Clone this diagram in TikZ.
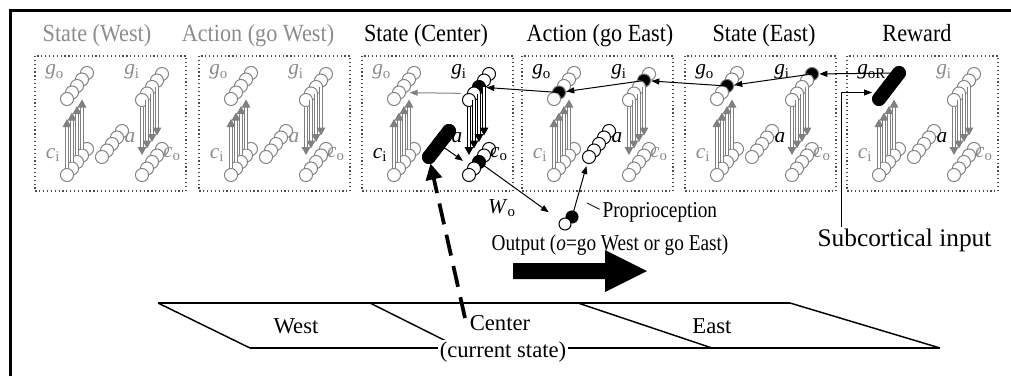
\documentclass[tikz,border=0pt]{standalone}
\usepackage{graphicx}
\usepackage{fontspec}
\setmainfont{Liberation Serif}
\usetikzlibrary{arrows.meta}

\definecolor{unitgray}{gray}{0.5}
\definecolor{labgray}{gray}{0.55}

% squeezed text as in the printed figure
\newcommand{\sqz}[1]{\scalebox{0.85}[1]{#1}}
\newcommand{\unitlab}[2]{\textit{#1}\textsubscript{#2}}

% five units in a slanted row, back to front; #5 = index of the active unit
\newcommand{\unitrow}[5]{%
  \foreach \k in {4,3,2,1,0}{%
    \coordinate (#1-\k) at (#2+5*\k,#3-6.5*\k);
    \ifnum\k=#5\relax
      \filldraw[unitc,draw=#4,fill=black] (#1-\k) circle (4.9pt);
    \else
      \filldraw[unitc,draw=#4] (#1-\k) circle (4.9pt);
    \fi
  }%
}

\begin{document}
\begin{tikzpicture}[x=0.75pt,y=-0.75pt,
  unitc/.style={line width=0.75pt,fill=white},
  modbox/.style={draw=black!70,dotted,line width=0.9pt},
  vecarr/.style={draw=#1,double=white,double distance=0.8pt,line width=0.75pt,
    -{Triangle[length=6pt,width=6.5pt,color=#1]}},
  linkarr/.style={line width=0.75pt,-{Triangle[length=6pt,width=4.5pt]}},
  actbar/.style={line width=10.5pt,line cap=round},
  dasharr/.style={line width=2.8pt,dash pattern=on 16pt off 8pt,
    -{Triangle[length=12pt,width=12pt]}},
  titletxt/.style={font=\fontsize{18.5}{20}\selectfont,anchor=base},
  vartxt/.style={font=\fontsize{16}{18}\selectfont,inner sep=0pt},
  bodytxt/.style={font=\fontsize{17}{19}\selectfont,inner sep=1pt},
  trackline/.style={line width=1.1pt}]
  \useasboundingbox (0,0) rectangle (1011,376);
  % frame
  \draw[line width=2.2pt] (10.5,376) -- (10.5,10.5) -- (1011,10.5);

  % titles
  \node[titletxt,text=labgray] (t1) at (97,41) {\scalebox{0.9}[1]{State (West)}};
  \node[titletxt,text=labgray] (t2) at (258,41) {\scalebox{0.9}[1]{Action (go West)}};
  \node[titletxt] (t3) at (426,41) {\scalebox{0.9}[1]{State (Center)}};
  \node[titletxt] (t4) at (600,41) {\scalebox{0.9}[1]{Action (go East)}};
  \node[titletxt] (t5) at (764,41) {\scalebox{0.9}[1]{State (East)}};
  \node[titletxt] (t6) at (917,41) {\scalebox{0.9}[1]{Reward}};

  % modules: units and internal projections
  \foreach \m/\L/\gob/\gib/\cob/\dc/\ac in {1/35/-1/-1/-1/unitgray/unitgray,
      2/199/-1/-1/-1/unitgray/unitgray, 3/362/-1/2/2/black/black,
      4/522/1/3/-1/unitgray/black, 5/685/2/4/-1/unitgray/unitgray,
      6/847/-1/-1/-1/unitgray/unitgray}{
    \draw[modbox] (\L,56) rectangle (\L+151,191);
    \unitrow{m\m-go}{\L+32}{99}{unitgray}{\gob}
    \unitrow{m\m-ci}{\L+32}{175}{unitgray}{-1}
    \unitrow{m\m-a}{\L+67}{157}{\ac}{-1}
    \unitrow{m\m-gi}{\L+107}{100}{\dc}{\gib}
    \unitrow{m\m-co}{\L+107}{175}{\dc}{\cob}
    \foreach \k in {0,...,3}{
      \draw[vecarr=unitgray] ([yshift=4.9pt]m\m-ci-\k) -- ([yshift=-15pt]m\m-go-\k);
      \draw[vecarr=\dc] ([yshift=-4.9pt]m\m-gi-\k) -- ([yshift=15pt]m\m-co-\k);
    }
  }

  % module labels
  \foreach \m/\L/\sgo/\cgo/\cgi/\ca/\cci/\cco in {
      1/35/o/labgray/labgray/labgray/labgray/labgray,
      2/199/o/labgray/labgray/labgray/labgray/labgray,
      3/362/o/labgray/black/black/black/black,
      4/522/o/black/black/black/labgray/labgray,
      5/685/o/black/black/black/labgray/labgray,
      6/847/oR/black/labgray/black/labgray/labgray}{
    \node[vartxt,text=\cgo,anchor=west] (m\m-lgo) at (\L+10,72) {\unitlab{g}{\sgo}};
    \node[vartxt,text=\cgi] (m\m-lgi) at (\L+97,72) {\unitlab{g}{i}};
    \node[vartxt,text=\ca] (m\m-la) at (\L+95,138) {\textit{a}};
    \node[vartxt,text=\cci] (m\m-lci) at (\L+18,155) {\unitlab{c}{i}};
    \node[vartxt,text=\cco] (m\m-lco) at (\L+137,154) {\unitlab{c}{o}};
  }

  % active action and reward units
  \draw[actbar] (m3-a-0) -- (m3-a-4);
  \draw[actbar] (m6-go-0) -- (m6-go-4);

  % links between modules
  \draw[linkarr,unitgray,shorten <=10pt,shorten >=8pt] (m3-gi-1) -- (m3-go-1);
  \draw[linkarr,shorten <=4pt,shorten >=10pt] (m3-a-2) -- (m3-co-1);
  \draw[linkarr,shorten >=5.5pt] (m6-go-4) -- (m5-gi-4);
  \draw[linkarr,shorten >=5.5pt] (m5-gi-4) -- (m5-go-2);
  \draw[linkarr,shorten >=5.5pt] (m5-go-2) -- (m4-gi-3);
  \draw[linkarr,shorten >=5.5pt] (m4-gi-3) -- (m4-go-1);
  \draw[linkarr,shorten >=5.5pt] (m4-go-1) -- (m3-gi-2);

  % output unit
  \coordinate (out-1) at (572,217);
  \coordinate (out-0) at (565,224);
  \filldraw[unitc,fill=black] (out-1) circle (4.5pt);
  \filldraw[unitc] (out-0) circle (4.5pt);
  \draw[linkarr,shorten >=15pt] (m3-co-2) -- (out-0);
  \draw[linkarr,shorten <=4pt,shorten >=7pt] (out-1) -- (m4-a-0);
  \node[vartxt] (wo) at (502,208) {\unitlab{W}{o}};
  \node[bodytxt,anchor=west] (prop) at (601,212) {\sqz{Proprioception}};
  \coordinate (prop-tip) at (587,203);
  \draw[line width=0.6pt] (prop-tip) -- ([shift={(-1pt,2pt)}]prop.west);
  \node[bodytxt] (outlbl) at (610,245) {\sqz{Output (\textit{o}=go West or go East)}};

  % subcortical input to the reward unit
  \node[bodytxt,font=\fontsize{19}{21}\selectfont,anchor=north west] (subc) at (816,227)
    {Subcortical input};
  \draw[linkarr,shorten >=9pt] ([xshift=19pt]subc.north west) |- (m6-go-1);

  % the track
  \draw[trackline] (158,303) -- (790,303);
  \draw[trackline] (250,348) -- (940,348);
  \draw[trackline] (158,303) -- (250,348);
  \draw[trackline] (370,303) -- (460,348);
  \draw[trackline] (578,303) -- (712,348);
  \draw[trackline] (790,303) -- (940,348);
  \node[bodytxt] (west) at (296,326) {West};
  \node[bodytxt] (center) at (500,323) {Center};
  \node[bodytxt,fill=white] (curr) at (503,352) {(current state)};
  \node[bodytxt] (east) at (712,326) {East};

  % moving east
  \fill (513,263) -- (605,263) -- (605,250) -- (647,271) -- (605,292)
    -- (605,279) -- (513,279) -- cycle;

  % current state drives the action
  \coordinate (now) at (465,318);
  \draw[dasharr,shorten >=5pt] (now) -- (m3-a-0);
\end{tikzpicture}
\end{document}
